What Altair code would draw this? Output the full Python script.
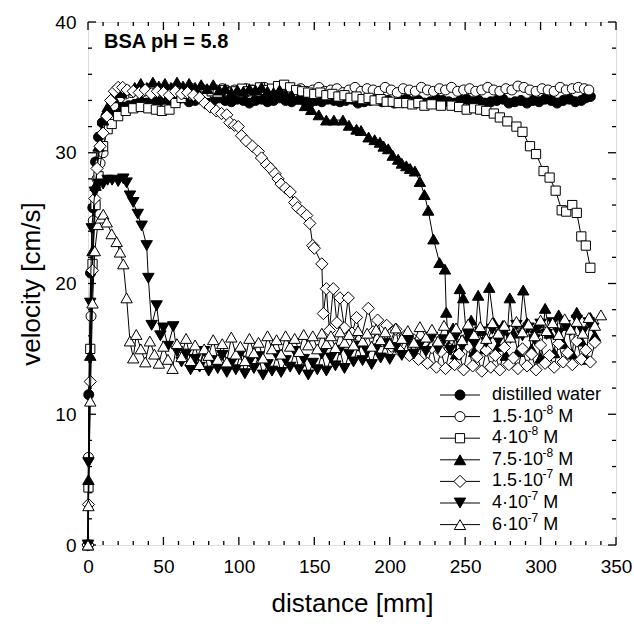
import altair as alt
import pandas as pd

FONT = "Liberation Sans"
W, H = 528, 523

# ---------------- data ----------------
# legend labels split as (base, superscript, tail)
series_labels = [("distilled water", "", ""), ("1.5·10", "-8", "M"), ("4·10", "-8", "M"),
                 ("7.5·10", "-8", "M"), ("1.5·10", "-7", "M"), ("4·10", "-7", "M"),
                 ("6·10", "-7", "M")]
series_shapes = ["circle", "circle", "square", "triangle-up", "diamond",
                 "triangle-down", "triangle-up"]
series_filled = [True, False, False, True, False, True, False]

x_ticks = [0, 50, 100, 150, 200, 250, 300, 350]
y_ticks = [0, 10, 20, 30, 40]
panel_title = "BSA pH = 5.8"

# distilled water
dw = [(0, 0), (0.5, 11.5), (1.7, 20.8), (3.2, 25.8), (5, 29.3), (7, 31.2), (9.5, 32.3),
      (12, 32.8), (15, 33.2), (19, 33.4), (23, 33.5), (27, 33.6), (31, 33.7), (35, 33.9),
      (39, 33.8), (43, 34.0), (47, 33.9), (51, 34.1), (55, 33.9), (59, 34.0), (63, 34.2),
      (67, 33.9), (71, 34.0), (75, 34.1), (79, 33.8), (83, 34.0), (87, 34.2), (91, 34.0),
      (95, 33.9), (99, 34.1), (103, 34.0), (107, 33.8), (111, 34.0), (115, 34.1), (119, 33.9),
      (123, 34.0), (127, 34.2), (131, 34.0), (135, 33.9), (139, 34.1), (143, 34.0), (147, 33.8),
      (151, 34.0), (155, 33.9), (159, 34.1), (163, 34.0), (167, 33.9), (171, 34.0), (175, 34.1),
      (179, 33.8), (183, 33.9), (187, 34.0), (191, 34.1), (195, 33.9), (199, 34.0), (203, 33.8),
      (207, 34.0), (211, 34.1), (215, 33.9), (219, 34.0), (223, 33.8), (227, 33.9), (231, 34.1),
      (235, 34.0), (239, 33.9), (243, 33.8), (247, 34.0), (251, 34.1), (255, 33.9), (259, 34.0),
      (263, 33.8), (267, 33.9), (271, 34.0), (275, 34.1), (279, 33.8), (283, 33.9), (287, 34.0),
      (291, 33.8), (295, 34.0), (299, 33.9), (303, 34.1), (307, 34.0), (311, 33.8), (315, 34.0),
      (319, 34.1), (323, 33.9), (327, 34.0), (330, 34.2), (333, 34.3)]

# 1.5e-8 M
c15e8 = [(0, 0), (0.3, 6.7), (2, 17.5), (3.5, 24.8), (6, 28.0), (8, 29.2), (10, 30.0),
         (13, 32.3), (17, 33.6), (21, 34.2), (25, 34.5), (29, 34.6), (33, 34.8), (37, 34.7),
         (41, 34.9), (45, 34.6), (49, 34.8), (53, 34.7), (57, 34.9), (61, 34.8), (65, 34.6),
         (69, 34.9), (73, 34.7), (77, 34.8), (81, 34.6), (85, 34.8), (89, 34.9), (93, 34.7),
         (97, 34.8), (101, 34.6), (105, 34.9), (109, 34.8), (113, 34.7), (117, 35.0), (121, 34.8),
         (125, 34.7), (129, 34.9), (133, 34.8), (137, 34.6), (141, 34.9), (145, 34.7), (149, 34.8),
         (153, 35.0), (157, 34.7), (161, 34.8), (165, 34.9), (169, 34.6), (173, 34.8), (177, 35.0),
         (181, 34.7), (185, 34.9), (189, 34.8), (193, 34.7), (197, 35.0), (201, 34.8), (205, 34.6),
         (209, 34.9), (213, 34.8), (217, 34.7), (221, 35.0), (225, 34.8), (229, 34.7), (233, 34.9),
         (237, 34.8), (241, 35.0), (245, 34.7), (249, 34.8), (253, 34.9), (257, 34.7), (261, 34.8),
         (265, 35.0), (269, 34.8), (273, 34.7), (277, 34.9), (281, 34.8), (285, 35.1), (289, 35.0),
         (293, 34.8), (297, 34.7), (301, 34.9), (305, 34.8), (309, 34.7), (313, 35.0), (317, 34.8),
         (321, 34.9), (325, 35.0), (329, 34.9), (332, 34.8)]

# 4e-8 M
c4e8 = [(0, 0), (0.3, 4.4), (1.5, 15.0), (3, 21.5), (5, 26.0), (7, 28.2), (10, 30.5),
        (13, 31.8), (15.7, 32.2), (20, 32.8), (25, 33.2), (30, 33.4), (35, 33.5), (40, 33.4),
        (45, 33.3), (49, 33.2), (54, 33.3), (58, 33.8), (62, 34.2), (66, 34.5), (70, 34.4),
        (74, 34.6), (78, 34.5), (82, 34.7), (86, 34.6), (90, 34.8), (94, 34.6), (98, 34.7),
        (102, 34.9), (106, 34.7), (110, 34.8), (114, 35.0), (118, 34.8), (122, 34.9), (126, 35.1),
        (130, 35.2), (134, 35.0), (138, 34.8), (142, 34.7), (146, 34.6), (150, 34.5), (154, 34.6),
        (158, 34.4), (162, 34.5), (166, 34.3), (170, 34.4), (174, 34.2), (178, 34.3), (182, 34.1),
        (186, 34.2), (190, 34.0), (194, 34.1), (198, 33.9), (202, 33.9), (206, 33.8), (211, 33.8),
        (215, 33.7), (219, 33.8), (223, 33.6), (227.7, 33.7), (234, 33.6), (241, 33.6), (246, 33.5),
        (251, 33.3), (256, 33.4), (260, 33.3), (264, 33.2), (269, 33.0), (273, 32.7), (278, 32.4),
        (284, 32.0), (288, 31.6), (293, 30.5), (297, 29.9), (302, 28.6), (306, 28.1), (310, 27.1),
        (314, 25.6), (317, 25.5), (321, 26.0), (324, 25.4), (327, 23.6), (330, 22.9), (333, 21.2)]

# 7.5e-8 M
c75e8 = [(0, 0), (0.3, 5.0), (1.5, 14.5), (3, 22.5), (5, 27.5), (7, 30.5), (10, 32.5),
         (13, 33.5), (17, 34.2), (22, 34.6), (27, 34.8), (31, 35.0), (35, 35.3), (39, 35.0),
         (43, 35.4), (47, 35.1), (51, 35.3), (55, 35.0), (59, 35.4), (63, 35.1), (67, 35.3),
         (71, 35.0), (75, 35.2), (79, 34.9), (83, 35.2), (87, 34.8), (91, 34.9), (95, 34.6),
         (99, 34.8), (103, 34.7), (107, 34.9), (111, 34.8), (115, 35.0), (119, 34.7), (123, 34.6),
         (127, 34.8), (131, 34.5), (135, 34.4), (139, 34.1), (143.8, 33.6), (148, 33.3), (153, 32.9),
         (158, 32.5), (163, 32.5), (169, 32.5), (173, 32.1), (178, 31.8), (181, 31.7), (186, 31.2),
         (190, 31.0), (193.5, 30.8), (196, 30.5), (199, 30.3), (202, 29.8), (205.6, 29.5), (208, 29.2),
         (211, 29.0), (213.5, 28.8), (216.7, 28.6), (220, 27.8), (223, 26.8), (225.5, 25.6),
         (229, 23.4), (233, 21.6), (236.6, 21.1), (237.5, 17.8), (239, 15.2), (242, 16.6),
         (244, 14.6), (246.5, 19.6), (248.7, 18.9), (251, 15.8), (254, 17.2), (256, 14.8),
         (258.6, 19.1), (261, 16.4), (263, 15.0), (266, 19.7), (269, 17.0), (272, 15.2), (275, 16.8),
         (277, 14.5), (279.6, 18.9), (282, 16.2), (285, 14.8), (288.5, 19.5), (291, 17.0),
         (294, 15.0), (297, 16.6), (300, 14.3), (303, 18.1), (306, 16.2), (309, 14.7), (312, 17.6),
         (315, 15.4), (318, 16.8), (321, 14.6), (324, 17.8), (327, 15.6), (330, 14.2), (333, 17.4),
         (336, 16.0)]

# 1.5e-7 M
c15e7 = [(0, 0), (0.3, 3.1), (1.5, 12.5), (3, 21.0), (4.5, 26.5), (6, 28.8), (8, 30.5),
         (10, 31.5), (12.5, 32.8), (15, 34.0), (17.5, 34.7), (20, 35.0), (23, 35.0), (26, 34.8),
         (30, 34.7), (34, 34.6), (38, 34.8), (42, 34.5), (46, 34.7), (50, 34.6), (54, 34.4),
         (58, 34.7), (62, 34.5), (66, 34.6), (70, 34.4), (74, 34.2), (77.5, 33.8), (81, 33.5),
         (85, 33.2), (88.5, 33.0), (92, 32.9), (94, 32.3), (97, 32.1), (99.6, 32.0), (101.8, 31.3),
         (105, 30.9), (109, 30.5), (112.9, 30.1), (115, 29.6), (118.4, 29.1), (121, 28.8),
         (124, 28.4), (126, 28.0), (128, 27.6), (131, 27.3), (134, 27.0), (137, 26.2), (139, 25.8),
         (142, 25.5), (145, 25.2), (147, 24.6), (149, 22.9), (150, 22.7), (155, 21.5), (156, 17.7),
         (158, 19.6), (160, 16.4), (162.6, 19.6), (165, 17.0), (167, 18.9), (170, 16.6),
         (172.5, 18.9), (175, 16.2), (178, 17.4), (181, 15.8), (185.8, 18.1), (189, 16.3),
         (192, 17.2), (195, 15.6), (198, 16.8), (201, 15.2), (204, 16.5), (207, 14.8), (210, 16.0),
         (213, 14.5), (216, 15.7), (219, 14.2), (222, 15.4), (225, 13.9), (228, 15.1), (231, 13.6),
         (234, 14.8), (237, 13.5), (240, 15.0), (243, 13.8), (246, 14.6), (249, 13.4), (252, 15.2),
         (255, 13.7), (258, 14.4), (261, 13.3), (264, 14.9), (267, 13.6), (270, 14.5), (273, 13.4),
         (276, 15.1), (279, 13.8), (282, 14.3), (285, 13.5), (288, 15.0), (291, 13.7), (294, 14.6),
         (297, 13.4), (300, 15.3), (303, 13.9), (306, 14.5), (309, 13.6), (312, 15.4), (315, 14.0),
         (318, 14.7), (321, 13.8), (324, 15.6), (327, 14.2), (330, 14.9), (333, 14.0), (336, 15.5)]

# 4e-7 M
c4e7 = [(0, 0), (0.3, 6.3), (1.5, 18.5), (2.5, 24.2), (4.5, 27.0), (7, 27.6), (10, 27.6),
        (13, 27.9), (16, 27.9), (20, 27.8), (23.4, 28.0), (25.6, 27.7), (27.8, 26.7), (30, 26.2),
        (33, 25.3), (35.6, 24.4), (38.9, 22.9), (40, 20.4), (42.2, 16.8), (45.5, 18.3), (48, 16.0),
        (50, 16.6), (53, 15.2), (56.5, 16.7), (59, 14.8), (62, 14.0), (65, 14.6), (68, 13.4),
        (71, 14.2), (74, 13.6), (77, 14.8), (80, 13.3), (83, 14.1), (86, 13.5), (89, 14.5),
        (92, 13.2), (95, 13.9), (98, 13.4), (101, 14.6), (104, 13.1), (107, 14.0), (110, 13.5),
        (113, 14.4), (116, 13.0), (119, 13.8), (122, 13.3), (125, 14.5), (128, 13.2), (131, 14.1),
        (134, 13.6), (137, 14.8), (140, 13.4), (143, 14.2), (146, 13.0), (149, 13.9), (152, 13.4),
        (155, 14.6), (158, 13.3), (161, 14.3), (164, 13.7), (167, 14.9), (170, 13.5), (173, 14.6),
        (176, 14.0), (179, 15.2), (182, 14.1), (185, 14.8), (188, 13.8), (191, 15.0), (194, 14.3),
        (197, 15.4), (200, 14.2), (204, 15.1), (208, 14.5), (212, 15.6), (216, 14.6), (220, 15.3),
        (224, 14.8), (228, 15.9), (232, 15.0), (236, 15.7), (240, 14.9), (244, 16.0), (248, 15.2),
        (252, 16.1), (256, 15.4), (260, 16.3), (264, 15.5), (268, 16.5), (272, 15.6), (276, 16.4),
        (280, 15.8), (284, 16.8), (288, 16.0), (292, 16.6), (296, 15.7), (300, 16.9), (304, 16.1),
        (308, 17.0), (312, 16.2), (316, 16.8), (320, 16.4), (324, 17.2), (328, 16.3), (332, 17.0),
        (335, 16.6)]

# 6e-7 M
c6e7 = [(0, 0), (0.3, 3.0), (1.5, 11.0), (3, 18.5), (4.5, 22.5), (6.5, 24.5), (8.5, 25.0),
        (10.1, 25.3), (12.4, 24.7), (15.7, 23.8), (19, 23.2), (21.2, 22.4), (23.4, 21.5),
        (25.6, 18.9), (27.8, 15.6), (30, 14.3), (32, 16.1), (35, 15.0), (38, 14.0), (41, 15.6),
        (44, 14.6), (47, 13.9), (50, 15.2), (53, 14.2), (56, 13.5), (59, 15.4), (62, 14.4),
        (65, 15.8), (68, 14.1), (71, 15.3), (74, 13.8), (77, 15.0), (80, 14.5), (83, 15.7),
        (86, 14.2), (89, 15.4), (92, 14.0), (95, 15.9), (98, 14.6), (101, 15.2), (104, 14.1),
        (107, 15.8), (110, 14.7), (113, 15.5), (116, 14.3), (119, 16.0), (122, 15.0), (125, 15.7),
        (128, 14.6), (131, 16.0), (134, 15.2), (137, 15.8), (140, 14.8), (143, 16.1), (146, 15.3),
        (149, 16.0), (152, 15.0), (155, 16.2), (158, 15.4), (161, 16.0), (164, 15.1), (167, 16.3),
        (170, 15.5), (173, 16.1), (176, 15.3), (179, 16.4), (182, 15.6), (185, 16.2), (188, 15.2),
        (191, 16.5), (194, 15.7), (197, 16.3), (200, 15.4), (204, 16.6), (208, 15.8), (212, 16.4),
        (216, 15.5), (220, 16.7), (224, 15.9), (228, 16.5), (232, 15.6), (236, 16.8), (240, 16.0),
        (244, 16.6), (248, 15.7), (252, 16.9), (256, 16.1), (260, 16.7), (264, 15.8), (268, 17.0),
        (272, 16.2), (276, 16.8), (280, 15.9), (284, 17.1), (288, 16.3), (292, 16.9), (296, 16.0),
        (300, 17.2), (304, 16.4), (308, 17.0), (312, 16.1), (316, 17.3), (320, 16.5), (324, 17.1),
        (328, 16.2), (332, 17.4), (336, 16.8), (340, 17.6)]

all_series = [dw, c15e8, c4e8, c75e8, c15e7, c4e7, c6e7]

# ---------------- styling ----------------
marker_size = {"circle": 100, "square": 85, "triangle-up": 130,
               "triangle-down": 130, "diamond": 150}

X_ENC = dict(scale=alt.Scale(domain=[0, 350], nice=False, zero=False),
             axis=alt.Axis(values=x_ticks, ticks=False, tickSize=0, domain=False, grid=False,
                           labelFont=FONT, labelFontSize=19, labelColor="black",
                           labelPadding=12, labelOverlap=False, labelFlush=False,
                           title="distance [mm]", titleFont=FONT, titleFontSize=26,
                           titleFontWeight="normal", titleColor="black", titlePadding=14))
Y_ENC = dict(scale=alt.Scale(domain=[0, 40], nice=False, zero=False),
             axis=alt.Axis(values=y_ticks, ticks=False, tickSize=0, domain=False, grid=False,
                           labelFont=FONT, labelFontSize=19, labelColor="black",
                           labelPadding=12, labelOverlap=False, labelFlush=False,
                           title="velocity [cm/s]", titleFont=FONT, titleFontSize=26,
                           titleFontWeight="normal", titleColor="black", titlePadding=10))


def xq(field):
    return alt.X(f"{field}:Q", **X_ENC)


def yq(field):
    return alt.Y(f"{field}:Q", **Y_ENC)


layers = []

# tick marks (inside, all four sides)
x_minor = [v for v in range(0, 351, 10) if v % 50]
y_minor = [v for v in range(0, 41, 2) if v % 10]
xt_major = pd.DataFrame({"distance": x_ticks})
xt_minor = pd.DataFrame({"distance": x_minor})
yt_major = pd.DataFrame({"velocity": y_ticks})
yt_minor = pd.DataFrame({"velocity": y_minor})
for dfx, ln in [(xt_major, 8), (xt_minor, 4)]:
    layers.append(alt.Chart(dfx).mark_rule(color="black", strokeWidth=1.3).encode(
        x=xq("distance"), y=alt.value(H), y2=alt.value(H - ln)))
    layers.append(alt.Chart(dfx).mark_rule(color="black", strokeWidth=1.3).encode(
        x=xq("distance"), y=alt.value(0), y2=alt.value(ln)))
for dfy, ln in [(yt_major, 8), (yt_minor, 4)]:
    layers.append(alt.Chart(dfy).mark_rule(color="black", strokeWidth=1.3).encode(
        y=yq("velocity"), x=alt.value(0), x2=alt.value(ln)))
    layers.append(alt.Chart(dfy).mark_rule(color="black", strokeWidth=1.3).encode(
        y=yq("velocity"), x=alt.value(W), x2=alt.value(W - ln)))

# data series
for pts, shp, fil in zip(all_series, series_shapes, series_filled):
    sdf = pd.DataFrame({"distance": [p[0] for p in pts],
                        "velocity": [p[1] for p in pts],
                        "order": list(range(len(pts)))})
    base = alt.Chart(sdf)
    layers.append(base.mark_line(color="black", strokeWidth=1).encode(
        x=xq("distance"), y=yq("velocity"), order="order:Q"))
    layers.append(base.mark_point(shape=shp, size=marker_size[shp], filled=True,
                                  fill="black" if fil else "white", stroke="black",
                                  strokeWidth=1, opacity=1).encode(
        x=xq("distance"), y=yq("velocity")))

# manual legend (line + symbol + label with real superscripts)
CHAR_W = {"0": .556, "1": .556, "2": .556, "3": .556, "4": .556, "5": .556, "6": .556,
          "7": .556, "8": .556, "9": .556, ".": .278, "·": .278, " ": .278, "-": .333,
          "M": .833}


def text_w(s, fs):
    return sum(CHAR_W.get(c, .556) for c in s) * fs


LEG_FS, SUP_FS = 18, 12
LEG_X0, LEG_Y0, LEG_DY = 352, 373, 21.6
for i, ((b, sup, tail), shp, fil) in enumerate(zip(series_labels, series_shapes, series_filled)):
    ly = LEG_Y0 + i * LEG_DY
    tx = LEG_X0 + 52
    ldf = pd.DataFrame({"b": [b], "s": [sup], "t": [tail]})
    lb = alt.Chart(ldf)
    layers.append(lb.mark_rule(color="black", strokeWidth=1).encode(
        x=alt.value(LEG_X0), x2=alt.value(LEG_X0 + 40), y=alt.value(ly)))
    layers.append(lb.mark_point(shape=shp, size=marker_size[shp], filled=True,
                                fill="black" if fil else "white", stroke="black",
                                strokeWidth=1, opacity=1).encode(
        x=alt.value(LEG_X0 + 20), y=alt.value(ly)))
    layers.append(lb.mark_text(align="left", baseline="middle", font=FONT, fontSize=LEG_FS,
                               color="black").encode(
        x=alt.value(tx), y=alt.value(ly), text="b:N"))
    if sup:
        sx = tx + text_w(b, LEG_FS) + 0.5
        layers.append(lb.mark_text(align="left", baseline="middle", font=FONT,
                                   fontSize=SUP_FS, color="black").encode(
            x=alt.value(sx), y=alt.value(ly - 7), text="s:N"))
        mx = sx + text_w(sup, SUP_FS) + 0.278 * LEG_FS
        layers.append(lb.mark_text(align="left", baseline="middle", font=FONT,
                                   fontSize=LEG_FS, color="black").encode(
            x=alt.value(mx), y=alt.value(ly), text="t:N"))

# panel title
layers.append(alt.Chart(pd.DataFrame({"t": [panel_title]})).mark_text(
    align="left", baseline="middle", font=FONT, fontSize=20, fontWeight="bold",
    color="black").encode(x=alt.value(16), y=alt.value(20), text="t:N"))

chart = alt.layer(*layers).properties(
    width=W, height=H,
    autosize=alt.AutoSizeParams(type="none"),
    padding={"left": 88, "top": 22, "right": 18, "bottom": 87},
).configure_view(stroke="black", strokeWidth=2).configure(background="white")

chart.save("out.html", embed_options={"renderer": "svg", "actions": False})
